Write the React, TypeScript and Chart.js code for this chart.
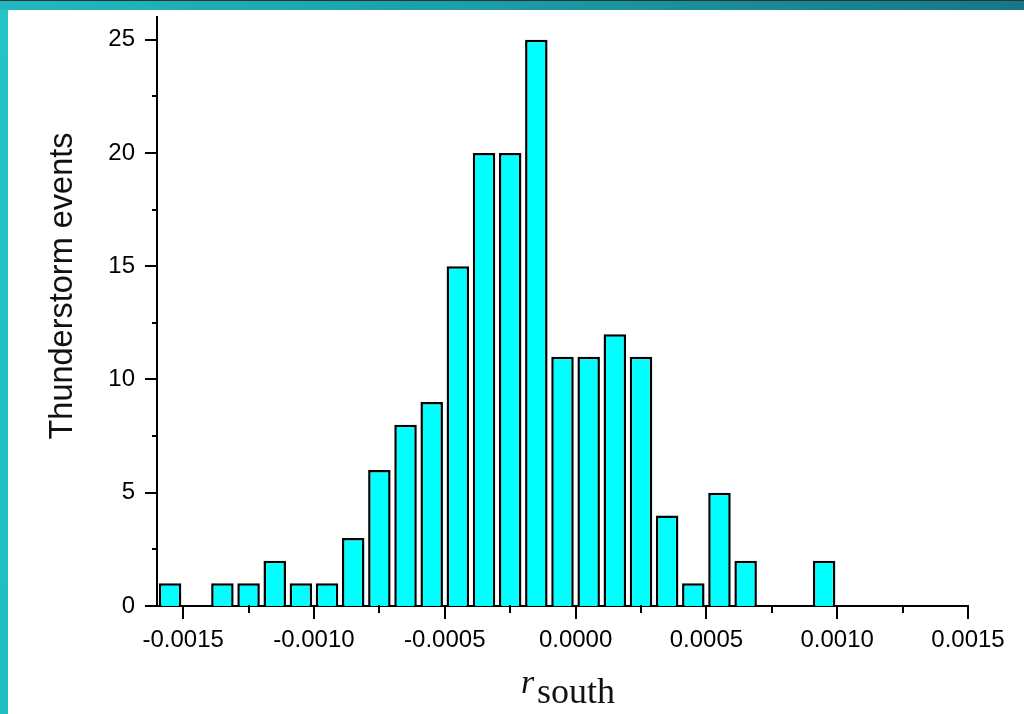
import React, { useEffect, useRef } from "react";
import { Chart, registerables } from "chart.js";

Chart.register(...registerables);

// Histogram bin centres (bin width 0.0001)
const BIN_CENTERS = [
  -0.00155, -0.00145, -0.00135, -0.00125, -0.00115, -0.00105, -0.00095, -0.00085,
  -0.00075, -0.00065, -0.00055, -0.00045, -0.00035, -0.00025, -0.00015, -0.00005,
  0.00005, 0.00015, 0.00025, 0.00035, 0.00045, 0.00055, 0.00065, 0.00075,
  0.00085, 0.00095,
];
const COUNTS = [
  1, 0, 1, 1, 2, 1, 1, 3,
  6, 8, 9, 15, 20, 20, 25, 11,
  11, 12, 11, 4, 1, 5, 2, 0,
  0, 2,
];

const X_MAJOR_TICKS = [-0.0015, -0.001, -0.0005, 0, 0.0005, 0.001, 0.0015];
const X_TICK_LABELS = ["-0.0015", "-0.0010", "-0.0005", "0.0000", "0.0005", "0.0010", "0.0015"];
const X_MINOR_TICKS = [-0.00125, -0.00075, -0.00025, 0.00025, 0.00075, 0.00125];

const Y_MAJOR_TICKS = [0, 5, 10, 15, 20, 25];
const Y_TICK_LABELS = ["0", "5", "10", "15", "20", "25"];
const Y_MINOR_TICKS = [2.5, 7.5, 12.5, 17.5, 22.5];

const X_MIN = -0.0016;
const X_MAX = 0.0015;
const Y_MIN = 0;
const Y_MAX = 26;

const Y_TITLE = "Thunderstorm events";
const X_TITLE_MAIN = "r";
const X_TITLE_SUB = "south";

const CANVAS_W = 1016;
const CANVAS_H = 704;

function isMajor(list: number[], v: number) {
  return list.some((m) => Math.abs(m - v) < 1e-12);
}
function labelFor(list: number[], labels: string[], v: number) {
  const i = list.findIndex((m) => Math.abs(m - v) < 1e-12);
  return i >= 0 ? labels[i] : "";
}

const tickPlugin = {
  id: "tickMarks",
  afterDraw(chart: any) {
    const ctx = chart.ctx;
    const area = chart.chartArea;
    const xs = chart.scales.x;
    const ys = chart.scales.y;
    ctx.save();
    ctx.strokeStyle = "#000";
    ctx.lineWidth = 2;
    ctx.lineCap = "butt";
    xs.ticks.forEach((t: any) => {
      const px = Math.round(xs.getPixelForValue(t.value));
      const len = isMajor(X_MAJOR_TICKS, t.value) ? 13 : 7;
      ctx.beginPath();
      ctx.moveTo(px, area.bottom - 1);
      ctx.lineTo(px, area.bottom + len);
      ctx.stroke();
    });
    ys.ticks.forEach((t: any) => {
      const py = Math.round(ys.getPixelForValue(t.value));
      const len = isMajor(Y_MAJOR_TICKS, t.value) ? 12 : 5;
      ctx.beginPath();
      ctx.moveTo(area.left + 1, py);
      ctx.lineTo(area.left - len, py);
      ctx.stroke();
    });

    // y-axis title
    ctx.fillStyle = "#111";
    ctx.save();
    ctx.translate(64, 276);
    ctx.rotate(-Math.PI / 2);
    ctx.font = "32.5px 'Liberation Sans', Arial, sans-serif";
    ctx.textAlign = "center";
    ctx.textBaseline = "alphabetic";
    ctx.fillText(Y_TITLE, 0, 0);
    ctx.restore();

    // x-axis title with subscript
    ctx.textAlign = "left";
    ctx.textBaseline = "alphabetic";
    ctx.font = "italic 34px 'Liberation Serif', 'Times New Roman', serif";
    ctx.fillText(X_TITLE_MAIN, 513, 683);
    ctx.font = "36px 'Liberation Serif', 'Times New Roman', serif";
    ctx.fillText(X_TITLE_SUB, 529, 693);
    ctx.restore();
  },
};

export default function App() {
  const canvasRef = useRef<HTMLCanvasElement | null>(null);

  useEffect(() => {
    if (!canvasRef.current) return;
    const data = BIN_CENTERS.map((x, i) => ({ x, y: COUNTS[i] }));
    const tickFont = { family: "'Liberation Sans', Arial, sans-serif", size: 24 };
    const chart = new Chart(canvasRef.current, {
      type: "bar",
      data: {
        datasets: [
          {
            data: data as any,
            backgroundColor: "#00FFFF",
            borderColor: "#000000",
            borderWidth: 2.5,
            borderSkipped: "start",
            categoryPercentage: 1,
            barPercentage: 0.86,
          },
        ],
      },
      plugins: [tickPlugin],
      options: {
        responsive: false,
        animation: false,
        devicePixelRatio: 1,
        layout: { padding: { top: 7, right: 56, left: 0, bottom: 0 } },
        plugins: {
          legend: { display: false },
          tooltip: { enabled: false },
          title: { display: false },
        },
        scales: {
          x: {
            type: "linear",
            min: X_MIN,
            max: X_MAX,
            offset: false,
            grid: { display: false, drawTicks: false },
            border: { display: true, color: "#000", width: 2 },
            afterBuildTicks: (scale: any) => {
              scale.ticks = [...X_MAJOR_TICKS, ...X_MINOR_TICKS]
                .sort((a, b) => a - b)
                .map((v) => ({ value: v }));
            },
            afterFit: (scale: any) => {
              scale.height = 108;
              scale.paddingLeft = 0;
              scale.paddingRight = 0;
            },
            ticks: {
              autoSkip: false,
              maxRotation: 0,
              minRotation: 0,
              padding: 20,
              color: "#000",
              font: tickFont,
              callback: (v: any) => labelFor(X_MAJOR_TICKS, X_TICK_LABELS, Number(v)),
            },
          },
          y: {
            type: "linear",
            min: Y_MIN,
            max: Y_MAX,
            grid: { display: false, drawTicks: false },
            border: { display: true, color: "#000", width: 2 },
            afterBuildTicks: (scale: any) => {
              scale.ticks = [...Y_MAJOR_TICKS, ...Y_MINOR_TICKS]
                .sort((a, b) => a - b)
                .map((v) => ({ value: v }));
            },
            afterFit: (scale: any) => {
              scale.width = 149;
              scale.paddingTop = 0;
              scale.paddingBottom = 0;
            },
            ticks: {
              autoSkip: false,
              padding: 22,
              color: "#000",
              font: tickFont,
              callback: (v: any) => labelFor(Y_MAJOR_TICKS, Y_TICK_LABELS, Number(v)),
            },
          },
        },
      },
    } as any);
    return () => chart.destroy();
  }, []);

  return (
    <div
      style={{
        position: "fixed",
        left: 0,
        top: 0,
        width: 1024,
        height: 714,
        overflow: "hidden",
        background: "#25bfc6",
      }}
    >
      <div
        style={{
          position: "absolute",
          left: 0,
          top: 0,
          width: 1024,
          height: 10,
          background: "linear-gradient(to right, #22b8bf 0%, #1c9fa9 45%, #167886 100%)",
          borderTop: "1px solid #2b3436",
          boxSizing: "border-box",
        }}
      />
      <div
        style={{
          position: "absolute",
          left: 0,
          top: 10,
          width: 8,
          height: 704,
          background: "linear-gradient(to bottom, #27c2c8, #22bcc3)",
        }}
      />
      <div
        style={{
          position: "absolute",
          left: 8,
          top: 10,
          width: CANVAS_W,
          height: CANVAS_H,
          background: "#ffffff",
        }}
      >
        <canvas
          ref={canvasRef}
          width={CANVAS_W}
          height={CANVAS_H}
          style={{ display: "block", width: CANVAS_W, height: CANVAS_H }}
        />
      </div>
    </div>
  );
}
